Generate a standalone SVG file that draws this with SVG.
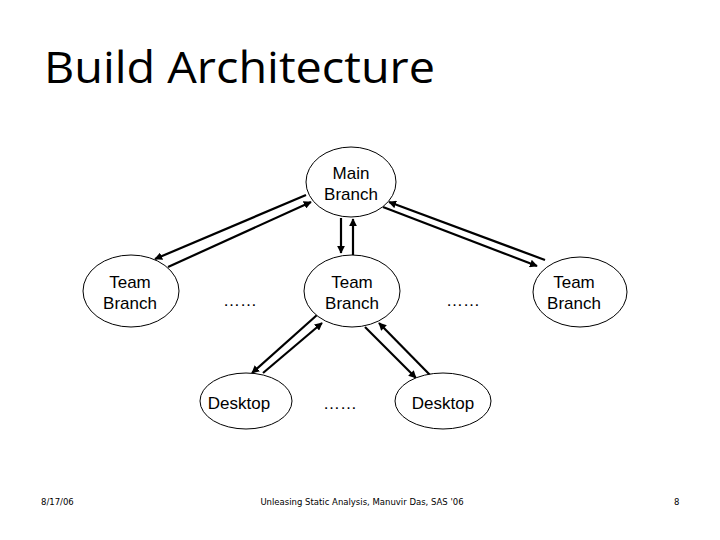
<svg xmlns="http://www.w3.org/2000/svg" width="720" height="540" viewBox="0 0 720 540">
<style>
.node ellipse{fill:#fff;stroke:#000;stroke-width:1}
.node text{font-family:"Liberation Sans",Arial,sans-serif;font-size:17px;text-anchor:middle;fill:#000}
.dots{font-family:"Liberation Sans",Arial,sans-serif;font-size:17px;text-anchor:middle;fill:#000}
.conn line{stroke:#000;stroke-width:2.2;marker-end:url(#ah)}
.foot{font-family:"DejaVu Sans",Verdana,sans-serif;font-size:8.5px;fill:#000}
</style>
<defs>
<marker id="ah" viewBox="0 0 10 10" refX="9" refY="5" markerWidth="3.6" markerHeight="3.6" orient="auto" markerUnits="strokeWidth">
<path d="M0,0 L10,5 L0,10 z" fill="#000"/>
</marker>
</defs>
<rect width="720" height="540" fill="#fff"/>
<text x="44" y="83" font-family="'Open Sans','DejaVu Sans',sans-serif" font-size="43" textLength="391" lengthAdjust="spacingAndGlyphs" fill="#000">Build Architecture</text>
<g id="connectors" class="conn">
<line x1="306" y1="195" x2="155" y2="259"/>
<line x1="168" y1="267" x2="311" y2="202"/>
<line x1="341" y1="218" x2="341" y2="253"/>
<line x1="353" y1="255" x2="353" y2="219"/>
<line x1="545" y1="260" x2="389" y2="202"/>
<line x1="383" y1="207" x2="537" y2="266"/>
<line x1="317" y1="315" x2="252" y2="373"/>
<line x1="263" y1="373" x2="322" y2="323"/>
<line x1="365" y1="327" x2="416" y2="378"/>
<line x1="430" y1="375" x2="379" y2="323"/>
</g>
<g id="main" class="node"><ellipse cx="351" cy="182" rx="45" ry="35"/><text x="351" y="179">Main</text><text x="351" y="200">Branch</text></g>
<g id="team1" class="node"><ellipse cx="131" cy="291" rx="48" ry="36"/><text x="130" y="288">Team</text><text x="130" y="309">Branch</text></g>
<g id="team2" class="node"><ellipse cx="352" cy="291" rx="48" ry="36"/><text x="352" y="288">Team</text><text x="352" y="309">Branch</text></g>
<g id="team3" class="node"><ellipse cx="580" cy="292" rx="47" ry="35"/><text x="574" y="288">Team</text><text x="574" y="309">Branch</text></g>
<g id="desk1" class="node"><ellipse cx="246" cy="401" rx="46" ry="28"/><text x="239" y="409">Desktop</text></g>
<g id="desk2" class="node"><ellipse cx="443" cy="401" rx="48" ry="28"/><text x="443" y="409">Desktop</text></g>
<text class="dots" x="240" y="306">……</text>
<text class="dots" x="463" y="306">……</text>
<text class="dots" x="340" y="409">……</text>
<text class="foot" x="41" y="505">8/17/06</text>
<text class="foot" x="362" y="505" text-anchor="middle">Unleasing Static Analysis, Manuvir Das, SAS '06</text>
<text class="foot" x="674" y="505">8</text>
</svg>
